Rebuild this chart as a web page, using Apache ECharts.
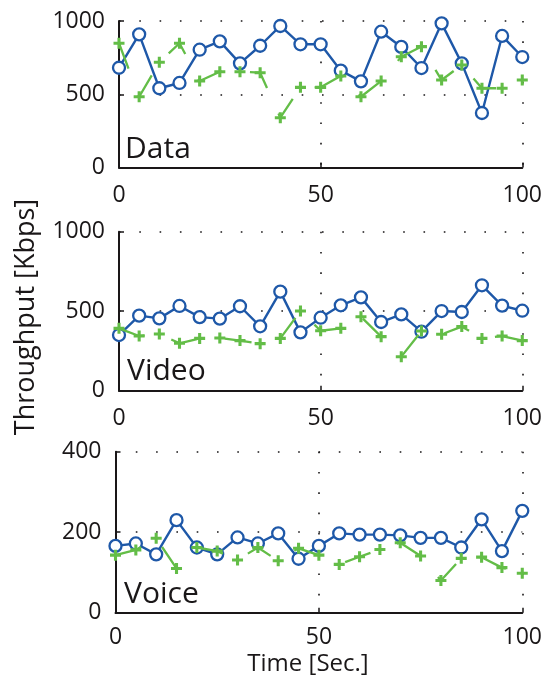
<!DOCTYPE html>
<html>
<head>
<meta charset="utf-8">
<script src="https://cdn.jsdelivr.net/npm/echarts@6/dist/echarts.min.js"></script>
<style>
  html, body { margin: 0; padding: 0; background: #fff; }
  #chart { width: 545px; height: 686px; }
</style>
</head>
<body>
<div id="chart"></div>
<script>
// Sample times (seconds)
const time = [0, 5, 10, 15, 20, 25, 30, 35, 40, 45, 50, 55, 60, 65, 70, 75, 80, 85, 90, 95, 100];

// Data traffic throughput (Kbps)
const dataBlue  = [681, 909, 541, 577, 804, 861, 711, 831, 966, 841, 841, 661, 588, 927, 823, 679, 984, 711, 372, 898, 754];
const dataGreen = [848, 483, 718, 848, 590, 654, 654, 647, 340, 547, 547, 625, 483, 590, 756, 825, 597, 700, 541, 541, 597];

// Video traffic throughput (Kbps)
const videoBlue  = [350, 472, 455, 533, 463, 453, 531, 405, 623, 367, 459, 537, 587, 432, 480, 371, 501, 495, 663, 535, 503];
const videoGreen = [392, 344, 357, 298, 329, 331, 315, 296, 329, 501, 377, 392, 465, 340, 214, 375, 355, 403, 329, 344, 315];

// Voice traffic throughput (Kbps)
const voiceBlue  = [166, 172, 145, 230, 162, 145, 187, 172, 197, 134, 166, 197, 194, 194, 192, 186, 186, 162, 232, 153, 253];
const voiceGreen = [143, 156, 185, 110, 162, 153, 131, 162, 129, 160, 143, 120, 139, 157, 174, 141, 80, 135, 138, 112, 98];

// Axis tick settings
const xTicks = { min: 0, max: 100, interval: 50 };
const yTicks = [
  { min: 0, max: 1000, interval: 500 },
  { min: 0, max: 1000, interval: 500 },
  { min: 0, max: 400, interval: 200 }
];
const panelNames = ['Data', 'Video', 'Voice'];

const BLUE = '#1e58a8';
const GREEN = '#63bd47';
const INK = '#1a1718';
const FONT = "'Open Sans', 'Noto Sans', sans-serif";
const PLUS = 'path://M3.6,0 H6.4 V3.6 H10 V6.4 H6.4 V10 H3.6 V6.4 H0 V3.6 H3.6 Z';

const grids = [
  { left: 119, top: 21, width: 406, height: 146.5 },
  { left: 119, top: 231.7, width: 406, height: 159 },
  { left: 115.5, top: 451.7, width: 408, height: 161 }
];
const xLabelMargins = [16, 16, 13];

const blueSets = [dataBlue, videoBlue, voiceBlue];
const greenSets = [dataGreen, videoGreen, voiceGreen];

const dotted = { color: INK, width: 1.6, type: [1.6, 18.7] };
const plain = (v) => String(v);

const xAxes = grids.map((g, i) => ({
  gridIndex: i, type: 'value',
  min: xTicks.min, max: xTicks.max, interval: xTicks.interval,
  axisLine: { show: true, onZero: false, lineStyle: { color: INK, width: 2 } },
  axisTick: { show: true, inside: true, length: 5, lineStyle: { color: INK, width: 1.5 } },
  axisLabel: { margin: xLabelMargins[i], fontSize: 23, color: INK, fontFamily: FONT, formatter: plain },
  splitLine: { show: true, lineStyle: dotted }
}));

const yAxes = grids.map((g, i) => ({
  gridIndex: i, type: 'value',
  min: yTicks[i].min, max: yTicks[i].max, interval: yTicks[i].interval,
  axisLine: { show: true, onZero: false, lineStyle: { color: INK, width: 2 } },
  axisTick: { show: true, inside: true, length: 5, lineStyle: { color: INK, width: 1.5 } },
  axisLabel: { margin: 14, fontSize: 23, color: INK, fontFamily: FONT, formatter: plain },
  splitLine: { show: true, lineStyle: dotted }
}));

const pair = (vals) => time.map((t, k) => [t, vals[k]]);

const series = [];
grids.forEach((g, i) => {
  series.push({
    type: 'line', xAxisIndex: i, yAxisIndex: i,
    data: pair(blueSets[i]),
    symbol: 'circle', symbolSize: 12,
    lineStyle: { color: BLUE, width: 2.4 },
    itemStyle: { color: '#fff', borderColor: BLUE, borderWidth: 2.3 },
    silent: true, z: 3
  });
  series.push({
    type: 'line', xAxisIndex: i, yAxisIndex: i,
    data: pair(greenSets[i]),
    symbol: PLUS, symbolSize: 11,
    lineStyle: { color: GREEN, width: 2.3, type: [27, 28] },
    itemStyle: { color: GREEN },
    silent: true, z: 4
  });
});

const labelPos = [[125, 149], [127, 371], [124, 594]];
const graphic = panelNames.map((name, i) => ({
  type: 'text', x: labelPos[i][0], y: labelPos[i][1], z: 10,
  style: { text: name, fontSize: 30, fontFamily: FONT, fill: INK, textAlign: 'left', textVerticalAlign: 'middle' }
}));
graphic.push({
  type: 'text', x: 26, y: 317, rotation: Math.PI / 2, z: 10,
  style: { text: 'Throughput [Kbps]', fontSize: 27, fontFamily: FONT, fill: INK, textAlign: 'center', textVerticalAlign: 'middle' }
});
graphic.push({
  type: 'text', x: 308, y: 664, z: 10,
  style: { text: 'Time [Sec.]', fontSize: 24, fontFamily: FONT, fill: INK, textAlign: 'center', textVerticalAlign: 'middle' }
});

const chart = echarts.init(document.getElementById('chart'), null, { renderer: 'canvas' });
chart.setOption({
  animation: false,
  backgroundColor: '#fff',
  grid: grids,
  xAxis: xAxes,
  yAxis: yAxes,
  series: series,
  graphic: graphic
});
</script>
</body>
</html>
